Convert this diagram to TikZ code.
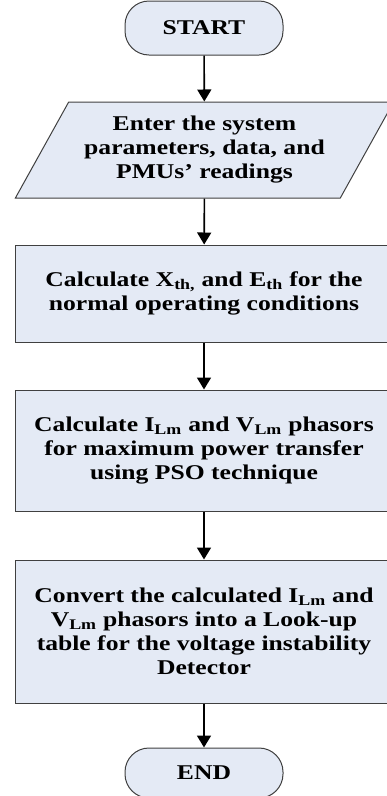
\documentclass[tikz,border=0pt]{standalone}
\usepackage{fontspec}
\setmainfont{Liberation Serif}[FakeStretch=1.22]
\usetikzlibrary{arrows.meta,shapes.geometric}
\definecolor{boxfill}{RGB}{228,234,245}
\begin{document}
\begin{tikzpicture}[x=1pt,y=1pt,>={Triangle[width=14pt,length=12pt]},
        every node/.style={font=\fontsize{21}{24}\selectfont\bfseries,align=center},
        term/.style={draw=black!75,fill=boxfill,line width=1pt,rounded corners=24pt,minimum width=158pt,minimum height=54pt},
        proc/.style={draw=black!75,fill=boxfill,line width=1pt,minimum width=378pt},
        io/.style={draw=black!75,fill=boxfill,line width=1pt,trapezium,trapezium left angle=56.7,trapezium right angle=123.3,trapezium stretches=true,minimum width=379pt,minimum height=96pt},
        flow/.style={->,line width=1.6pt}]
        \useasboundingbox (0,0) rectangle (386,-796);
        \node[term] (start) at (204,-28) {START};
        \node[io] (input) at (204.5,-150) {Enter the system\\parameters, data, and\\PMUs’ readings};
        \node[proc,minimum height=97pt] (thev) at (204,-293.5) {Calculate X\textsubscript{th,} and E\textsubscript{th} for the\\normal operating conditions};
        \node[proc,minimum height=121pt] (pso) at (204,-450.5) {Calculate I\textsubscript{Lm} and V\textsubscript{Lm} phasors\\for maximum power transfer\\using PSO technique};
        \node[proc,minimum height=143pt] (table) at (204,-631.5) {Convert the calculated I\textsubscript{Lm} and\\V\textsubscript{Lm} phasors into a Look-up\\table for the voltage instability\\Detector};
        \node[term,minimum height=50pt] (end) at (204,-773) {END};
        \draw[flow] (start) -- (input);
        \draw[flow] (input) -- (thev);
        \draw[flow] (thev) -- (pso);
        \draw[flow] (pso) -- (table);
        \draw[flow] (table) -- (end);
    \end{tikzpicture}
\end{document}
